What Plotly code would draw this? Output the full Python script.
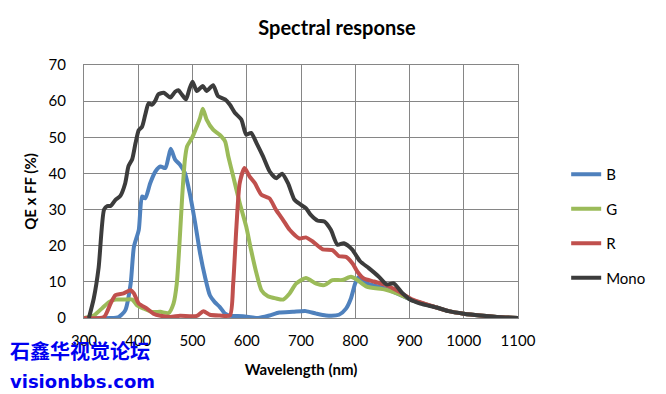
import plotly.graph_objects as go

# ---- data ----
b_x = [300, 349, 364, 376, 386, 392, 401, 407, 413, 422, 432, 441, 450, 456, 460, 468, 477, 486, 495, 505, 514, 523, 532, 541, 550, 560, 569, 593, 621, 642, 660, 685, 709, 728, 746, 770, 783, 792, 800, 806, 821, 855, 877, 907, 950, 972, 1000, 1030, 1061, 1100]
b_y = [0, 0, 0.3, 2.1, 9.5, 19.7, 24.4, 33.6, 33.1, 37.3, 40.6, 41.9, 41.5, 44.7, 46.8, 43.8, 42.4, 40.1, 34.5, 26.2, 17.9, 11.4, 6.3, 4.4, 3.1, 1.2, 0.6, 0.5, 0, 0.7, 1.5, 1.7, 1.9, 1.2, 0.7, 0.9, 2.6, 5.4, 9.6, 11.3, 9.6, 8.2, 6.8, 4.8, 2.9, 1.9, 1.2, 0.7, 0.3, 0]

g_x = [300, 318, 334, 346, 358, 376, 389, 398, 410, 425, 441, 456, 465, 471, 476, 481, 486, 490, 499, 508, 514, 519, 526, 538, 550, 560, 566, 575, 587, 599, 608, 618, 627, 639, 654, 667, 679, 691, 709, 728, 743, 758, 776, 792, 804, 821, 855, 877, 907, 950, 972, 1000, 1030, 1061, 1100]
g_y = [0, 0.7, 2.8, 4.4, 5.1, 5.1, 5.1, 3.5, 2.6, 1.7, 1.7, 1.4, 4.0, 9.5, 20.6, 33.6, 43.8, 47.5, 49.8, 53.0, 55.4, 57.9, 54.9, 52.1, 50.7, 48.9, 44.7, 39.2, 31.8, 25.3, 18.8, 12.3, 7.7, 6.0, 5.4, 5.1, 6.8, 9.5, 11.1, 9.5, 9.1, 10.5, 10.5, 11.4, 10.5, 8.7, 7.9, 6.8, 4.8, 2.9, 1.9, 1.2, 0.7, 0.3, 0]

r_x = [300, 337, 349, 358, 373, 386, 392, 401, 416, 428, 441, 459, 477, 508, 520, 532, 550, 569, 575, 581, 587, 596, 605, 615, 627, 642, 654, 667, 679, 697, 709, 722, 740, 758, 770, 783, 795, 804, 815, 834, 855, 877, 907, 950, 972, 1000, 1030, 1061, 1100]
r_y = [0, 0.3, 4.0, 6.3, 6.8, 7.7, 6.8, 4.0, 2.6, 1.2, 0.6, 0.3, 0.6, 0.6, 1.9, 0.9, 0.7, 0.7, 9.5, 25.3, 37.3, 41.5, 39.2, 37.3, 34.1, 33.1, 29.9, 27.1, 24.4, 22.0, 22.3, 21.1, 19.0, 18.8, 17.1, 16.9, 15.1, 12.8, 11.0, 10.1, 9.2, 7.6, 5.0, 2.9, 1.9, 1.2, 0.7, 0.3, 0]

m_x = [309, 318, 327, 337, 343, 349, 358, 367, 376, 382, 389, 395, 401, 407, 413, 419, 425, 431, 437, 447, 459, 468, 474, 480, 488, 494, 500, 508, 519, 526, 538, 547, 560, 569, 578, 590, 599, 608, 618, 630, 642, 654, 665, 676, 688, 700, 709, 718, 731, 743, 755, 767, 779, 794, 809, 825, 843, 858, 871, 886, 901, 920, 950, 972, 1000, 1030, 1061, 1100]
m_y = [0, 5.4, 14, 30, 31, 31, 32.7, 33.8, 37.3, 42, 44, 48.4, 52, 52.9, 56.3, 59.4, 59, 60, 61.9, 62.3, 61, 62.6, 63, 61.9, 60.5, 63.2, 65.4, 62.8, 64.2, 62.8, 64.4, 61.4, 60.5, 59, 56.8, 54.9, 50.7, 51.2, 48.4, 44.7, 40.6, 38.7, 39.9, 37.3, 32.7, 31.3, 30.4, 28.5, 26.9, 26.7, 24.4, 20.3, 20.7, 19.0, 15.7, 13.8, 11.5, 9.3, 9.6, 7.0, 5.1, 4.0, 2.9, 1.9, 1.2, 0.7, 0.3, 0]

series = [
    ("B", b_x, b_y, "#4F81BD"),
    ("G", g_x, g_y, "#9BBB59"),
    ("R", r_x, r_y, "#C0504D"),
    ("Mono", m_x, m_y, "#3C3C3C"),
]

FONT = "Lato, 'Open Sans', sans-serif"

fig = go.Figure()
for name, xs, ys, col in series:
    fig.add_trace(go.Scatter(
        x=xs, y=ys, name=name, mode="lines", legendgroup=name,
        line=dict(color=col, width=4, shape="spline", smoothing=0.6),
    ))

grid = "#868686"
fig.update_layout(
    width=658, height=386,
    margin=dict(l=76, r=148, t=57, b=76),
    paper_bgcolor="white", plot_bgcolor="white",
    font=dict(family=FONT, size=15, color="black"),
    title=dict(text="<b>Spectral response</b>", x=0.5, xanchor="center",
               y=0.948, yanchor="middle", font=dict(size=20, family=FONT)),
    showlegend=True,
    legend=dict(x=1.111, xanchor="left", y=0.632, yanchor="top",
                tracegroupgap=12, font=dict(size=15, family=FONT),
                bgcolor="rgba(0,0,0,0)"),
    xaxis=dict(range=[300, 1100], dtick=100, tick0=300, showgrid=True,
               gridcolor=grid, gridwidth=1, showline=True, linecolor=grid,
               mirror=True, ticks="", zeroline=False, ticklabelstandoff=9,
               title=dict(text="<b>Wavelength (nm)</b>", standoff=16,
                          font=dict(size=15))),
    yaxis=dict(range=[0, 70], dtick=10, showgrid=True, gridcolor=grid,
               gridwidth=1, showline=True, linecolor=grid, mirror=True,
               ticks="", zeroline=False, ticklabelstandoff=14,
               title=dict(text="<b>QE x FF (%)</b>", standoff=8,
                          font=dict(size=15))),
)

fig.add_annotation(text="<b>石鑫华视觉论坛</b>", xref="paper", yref="paper",
                   x=-0.175, y=-0.13, xanchor="left", yanchor="middle",
                   showarrow=False,
                   font=dict(family="Noto Sans CJK SC", size=20, color="#0000F0"))
fig.add_annotation(text="<b>visionbbs.com</b>", xref="paper", yref="paper",
                   x=-0.175, y=-0.25, xanchor="left", yanchor="middle",
                   showarrow=False,
                   font=dict(family="DejaVu Sans", size=18, color="#0000F0"))

fig.write_html("out.html")
